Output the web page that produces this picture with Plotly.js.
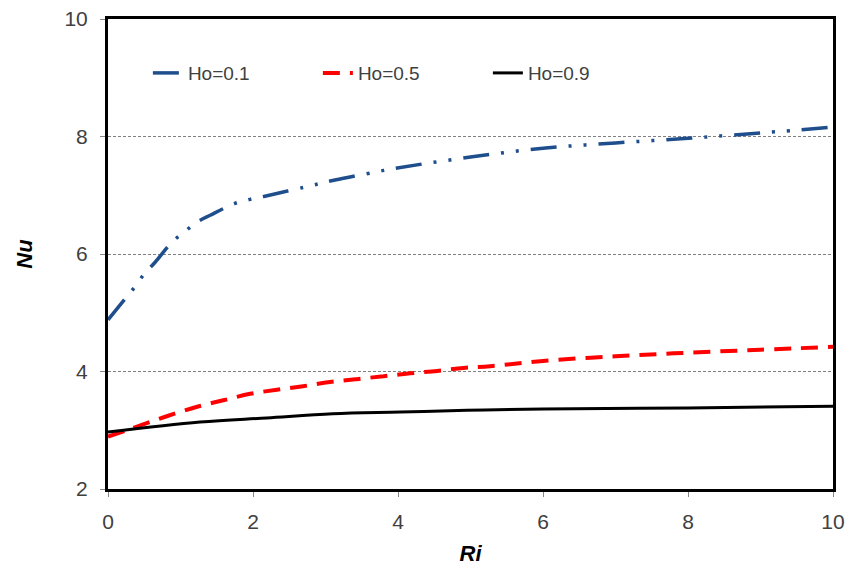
<!DOCTYPE html>
<html><head><meta charset="utf-8">
<script src="https://cdn.plot.ly/plotly-3.0.1.min.js"></script>
<style>body{margin:0;background:#fff}#c{width:850px;height:572px}</style>
</head><body><div id="c"></div>
<script>
// Data
const ri01 = [0, 0.23, 0.37, 0.5, 0.65, 0.88, 1.05, 1.21, 1.41, 1.75, 1.96, 2.15, 2.72, 3.13, 3.71, 3.92, 5, 6, 7, 8, 9, 10];
const nu01 = [4.88, 5.23, 5.44, 5.66, 5.86, 6.2, 6.37, 6.53, 6.66, 6.86, 6.93, 6.98, 7.14, 7.26, 7.40, 7.45, 7.65, 7.80, 7.89, 7.97, 8.06, 8.16];
const ri05 = [0, 0.35, 0.79, 1.23, 1.59, 1.96, 2.33, 2.69, 3.06, 3.43, 3.8, 4.17, 4.54, 4.9, 5.27, 6, 7, 8, 9, 10];
const nu05 = [2.89, 3.04, 3.23, 3.40, 3.51, 3.62, 3.69, 3.75, 3.82, 3.87, 3.92, 3.97, 4.01, 4.06, 4.09, 4.18, 4.26, 4.32, 4.37, 4.42];
const ri09 = [0, 1.27, 2.19, 3.1, 4.03, 4.95, 6, 8, 10];
const nu09 = [2.97, 3.14, 3.21, 3.28, 3.31, 3.34, 3.36, 3.38, 3.41];
const names = ["Ho=0.1", "Ho=0.5", "Ho=0.9"];
const xTicks = [0, 2, 4, 6, 8, 10];
const yTicks = [2, 4, 6, 8, 10];

const font = "Liberation Sans, Arial, sans-serif";
const tickFont = {family: font, size: 21, color: "#404040"};
const traces = [
  {x: ri01, y: nu01, name: names[0], mode: "lines", line: {color: "#1f4e8c", width: 3.5, dash: "26px,12px,3px,12px,3px,12px", shape: "spline"}},
  {x: ri05, y: nu05, name: names[1], mode: "lines", line: {color: "#ff0000", width: 4, dash: "17px,10px", shape: "spline"}},
  {x: ri09, y: nu09, name: names[2], mode: "lines", line: {color: "#000000", width: 3, shape: "spline"}}
];
const layout = {
  width: 850, height: 572,
  margin: {l: 108, r: 17, t: 19, b: 83},
  paper_bgcolor: "#fff", plot_bgcolor: "#fff",
  font: {family: font, size: 20, color: "#404040"},
  showlegend: true,
  legend: {orientation: "h", x: 0.055, y: 0.885, xanchor: "left", yanchor: "middle",
           entrywidth: 125, entrywidthmode: "pixels", bgcolor: "rgba(0,0,0,0)",
           font: {family: font, size: 19, color: "#404040"}},
  xaxis: {range: [0, 10], tickvals: xTicks, ticktext: xTicks.map(String), tickfont: tickFont,
          showgrid: false, zeroline: false, showline: true, linecolor: "#000", linewidth: 3, mirror: true,
          ticks: "outside", ticklen: 5, tickcolor: "#888", ticklabelstandoff: 7,
          title: {text: "<b><i>Ri</i></b>", font: {family: font, size: 22, color: "#000"}, standoff: 14}},
  yaxis: {range: [2, 10], tickvals: yTicks, ticktext: yTicks.map(String), tickfont: tickFont,
          showgrid: true, gridcolor: "#808080", gridwidth: 1, griddash: "3px,2px",
          zeroline: false, showline: true, linecolor: "#000", linewidth: 3, mirror: true,
          ticks: "outside", ticklen: 5, tickcolor: "#888", ticklabelstandoff: 8,
          title: {text: "<b><i>Nu</i></b>", font: {family: font, size: 22, color: "#000"}, standoff: 26}}
};
Plotly.newPlot("c", traces, layout, {displayModeBar: false, staticPlot: true});
</script></body></html>
